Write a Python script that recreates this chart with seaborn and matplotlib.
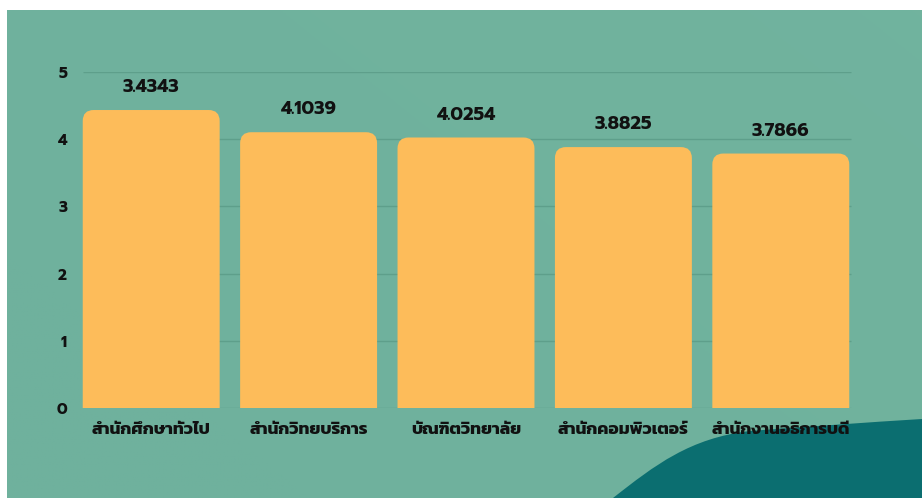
import matplotlib
matplotlib.use("Agg")
import matplotlib.pyplot as plt
from matplotlib.patches import PathPatch
from matplotlib.path import Path
import matplotlib.colors as mcolors
import numpy as np
import seaborn as sns
import pandas as pd

categories = ["สำนักศึกษาทั่วไป", "สำนักวิทยบริการ", "บัณฑิตวิทยาลัย", "สำนักคอมพิวเตอร์", "สำนักงานอธิการบดี"]
values = [4.4343, 4.1039, 4.0254, 3.8825, 3.7866]
value_labels = ["3.4343", "4.1039", "4.0254", "3.8825", "3.7866"]
y_ticks = [0, 1, 2, 3, 4, 5]

df = pd.DataFrame({"category": categories, "value": values})

BAR = "#FDBC5A"
BG = "#6FB19D"
DARK = "#0B6E70"
GRID = "#5E9F8B"

sns.set_theme(style="white")
plt.rcParams["font.family"] = ["Prompt", "Kanit", "DejaVu Sans"]

W, H = 922, 498
fig = plt.figure(figsize=(W / 100, H / 100), dpi=100, facecolor="white")

def fx(px):
    return px / W

def fy(py):
    return 1 - py / H

# background panel with subtle gradient
bg_ax = fig.add_axes([fx(7), 0, 1 - fx(7), 1 - 10 / H], zorder=0)
grad = np.linspace(0, 1, 256)
gx, gy = np.meshgrid(grad, grad)
base = np.array(mcolors.to_rgb(BG))
light = np.array([0.46, 0.72, 0.63])
mix = np.clip(0.6 * gx + 0.4 * gy - 0.2, 0, 1)[..., None]
img = base * (1 - mix * 0.4) + light * mix * 0.4
bg_ax.imshow(img, aspect="auto", origin="lower", extent=[0, 1, 0, 1])
bg_ax.set_xlim(0, 1)
bg_ax.set_ylim(0, 1)
bg_ax.axis("off")

# dark teal wave in the bottom right
wv = [(613, 498), (655, 465), (690, 438), (750, 431), (840, 424), (922, 419), (922, 498), (613, 498)]
wc = [Path.MOVETO, Path.CURVE4, Path.CURVE4, Path.CURVE4, Path.CURVE3, Path.CURVE3, Path.LINETO, Path.CLOSEPOLY]
wv = [(fx(x), fy(y)) for x, y in wv]
wave = PathPatch(Path(wv, wc), facecolor=DARK, edgecolor="none", transform=fig.transFigure, zorder=1)
fig.patches.append(wave)

# main axes: y=0 at 408 px, y=5 at 72 px; category slots ~157.4 px wide from x=72.5
ax_w_px = 787
ax_h_px = 336
ax = fig.add_axes([fx(72.5), fy(408), fx(ax_w_px), ax_h_px / H], zorder=2)
ax.patch.set_alpha(0)

sns.barplot(data=df, x="category", y="value", color=BAR, width=0.87, saturation=1, ax=ax, zorder=3)

ax.set_ylim(0, 5)
ax.set_xlim(-0.5, 4.5)
ax.set_yticks(y_ticks)
ax.hlines(y_ticks, -0.433, 4.446, colors=GRID, linewidth=1.0, zorder=1)
for s in ax.spines.values():
    s.set_visible(False)
ax.set_xlabel("")
ax.set_ylabel("")
ax.tick_params(axis="both", length=0)
ax.tick_params(axis="y", pad=4)
ax.tick_params(axis="x", pad=11)
for t in ax.get_yticklabels():
    t.set_fontsize(11)
    t.set_fontweight("bold")
    t.set_color("#111111")
for t in ax.get_xticklabels():
    t.set_fontsize(12.5)
    t.set_fontweight("bold")
    t.set_color("#111111")
    t.set_family(["Kanit", "DejaVu Sans"])

# rounded tops for the bars
r_px = 11
rx = r_px * 5 / ax_w_px
ry = r_px * 5 / ax_h_px
for p, lab in zip(list(ax.patches), value_labels):
    x0, w, h = p.get_x(), p.get_width(), p.get_height()
    x1 = x0 + w
    p.set_visible(False)
    verts = [(x0, 0), (x0, h - ry), (x0, h), (x0 + rx, h), (x1 - rx, h), (x1, h), (x1, h - ry), (x1, 0), (x0, 0)]
    codes = [Path.MOVETO, Path.LINETO, Path.CURVE3, Path.CURVE3, Path.LINETO, Path.CURVE3, Path.CURVE3,
             Path.LINETO, Path.CLOSEPOLY]
    ax.add_patch(PathPatch(Path(verts, codes), facecolor=BAR, edgecolor="none", zorder=3))
    ax.annotate(lab, (x0 + w / 2, h), xytext=(0, 16), textcoords="offset points",
                ha="center", va="center", fontsize=13, fontweight="bold", color="#111111", zorder=4)

fig.savefig("out.png", dpi=100, facecolor="white")
